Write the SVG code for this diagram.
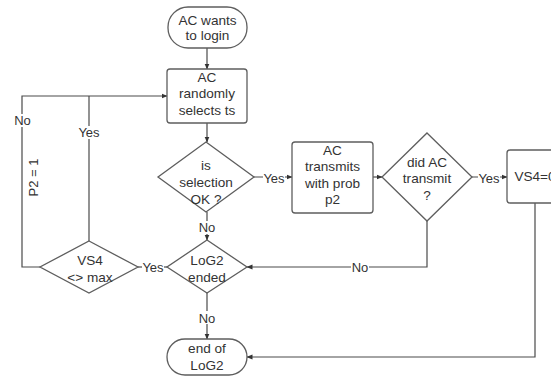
<svg xmlns="http://www.w3.org/2000/svg" width="551" height="376" viewBox="0 0 551 376">
<defs>
<style>
.s{fill:#fff;stroke:#5e5e5e;stroke-width:1.3}
.c{fill:none;stroke:#4a4a4a;stroke-width:1.2}
text{font-family:"Liberation Sans",Arial,sans-serif;font-size:13px;fill:#333;text-anchor:middle}
.n text{font-size:13.6px}
.lb{fill:#fff;stroke:none}
</style>
<marker id="ah" markerWidth="6" markerHeight="6" refX="5.5" refY="3" orient="auto" markerUnits="userSpaceOnUse">
<path d="M0,0.5 L6,3 L0,5.5 Z" fill="#333"/>
</marker>
</defs>
<rect width="551" height="376" fill="#fff"/>
<g id="connectors">
<path class="c" d="M207,48 V69" marker-end="url(#ah)"/>
<path class="c" d="M207,123 V142" marker-end="url(#ah)"/>
<path class="c" d="M254,177 H292" marker-end="url(#ah)"/>
<path class="c" d="M373,177 H382" marker-end="url(#ah)"/>
<path class="c" d="M472,177 H507" marker-end="url(#ah)"/>
<path class="c" d="M207,212 V240" marker-end="url(#ah)"/>
<path class="c" d="M427,221 V267 H247" marker-end="url(#ah)"/>
<path class="c" d="M167,267 H138"/>
<path class="c" d="M89,241 V96"/>
<path class="c" d="M40,267 H22 V96 H167" marker-end="url(#ah)"/>
<path class="c" d="M535,203 V357 H247" marker-end="url(#ah)"/>
<path class="c" d="M207,293 V339" marker-end="url(#ah)"/>
<g id="labels">
<rect class="lb" x="263" y="171" width="22" height="14"/><text x="274" y="183">Yes</text>
<rect class="lb" x="478" y="171" width="22" height="14"/><text x="489" y="183">Yes</text>
<rect class="lb" x="198" y="221" width="18" height="13"/><text x="207" y="232">No</text>
<rect class="lb" x="351" y="261" width="18" height="13"/><text x="360" y="272">No</text>
<rect class="lb" x="142" y="261" width="22" height="13"/><text x="153" y="272">Yes</text>
<rect class="lb" x="198" y="311" width="18" height="13"/><text x="207" y="323">No</text>
<rect class="lb" x="13" y="114" width="19" height="13"/><text x="22.5" y="125">No</text>
<rect class="lb" x="78" y="126" width="22" height="13"/><text x="89" y="137">Yes</text>
</g>
</g>
<text transform="translate(38,177.5) rotate(-90)" x="0" y="0">P2 = 1</text>
<g class="n">
<g id="start">
<rect class="s" x="168" y="7" width="79" height="41" rx="20"/>
<text x="207.5" y="25">AC wants</text><text x="207.5" y="40">to login</text>
</g>
<g id="select">
<rect class="s" x="167" y="69" width="80" height="54" rx="3"/>
<text x="207" y="82">AC</text><text x="207" y="98">randomly</text><text x="207" y="115">selects ts</text>
</g>
<g id="selok">
<polygon class="s" points="206,142 254,177 206,212 158,177"/>
<text x="206" y="170">is</text><text x="206" y="187">selection</text><text x="206" y="204">OK ?</text>
</g>
<g id="transmits">
<rect class="s" x="292" y="142" width="81" height="71" rx="3"/>
<text x="332.5" y="155">AC</text><text x="332.5" y="171">transmits</text><text x="332.5" y="188">with prob</text><text x="332.5" y="204">p2</text>
</g>
<g id="didtransmit">
<polygon class="s" points="427,133 472,177 427,221 382,177"/>
<text x="427" y="167">did AC</text><text x="427" y="183">transmit</text><text x="427" y="200">?</text>
</g>
<g id="vs4zero">
<rect class="s" x="507" y="150" width="57" height="53" rx="3"/>
<text x="535" y="181">VS4=0</text>
</g>
<g id="log2ended">
<polygon class="s" points="207,240 247,267 207,293 167,267"/>
<text x="207" y="265">LoG2</text><text x="207" y="282">ended</text>
</g>
<g id="vs4max">
<polygon class="s" points="89,241 138,267 89,293 40,267"/>
<text x="90" y="265">VS4</text><text x="90" y="282">&lt;&gt; max</text>
</g>
<g id="end">
<rect class="s" x="167" y="339" width="80" height="36" rx="18"/>
<text x="207" y="353">end of</text><text x="207" y="370">LoG2</text>
</g>
</g>
</svg>
